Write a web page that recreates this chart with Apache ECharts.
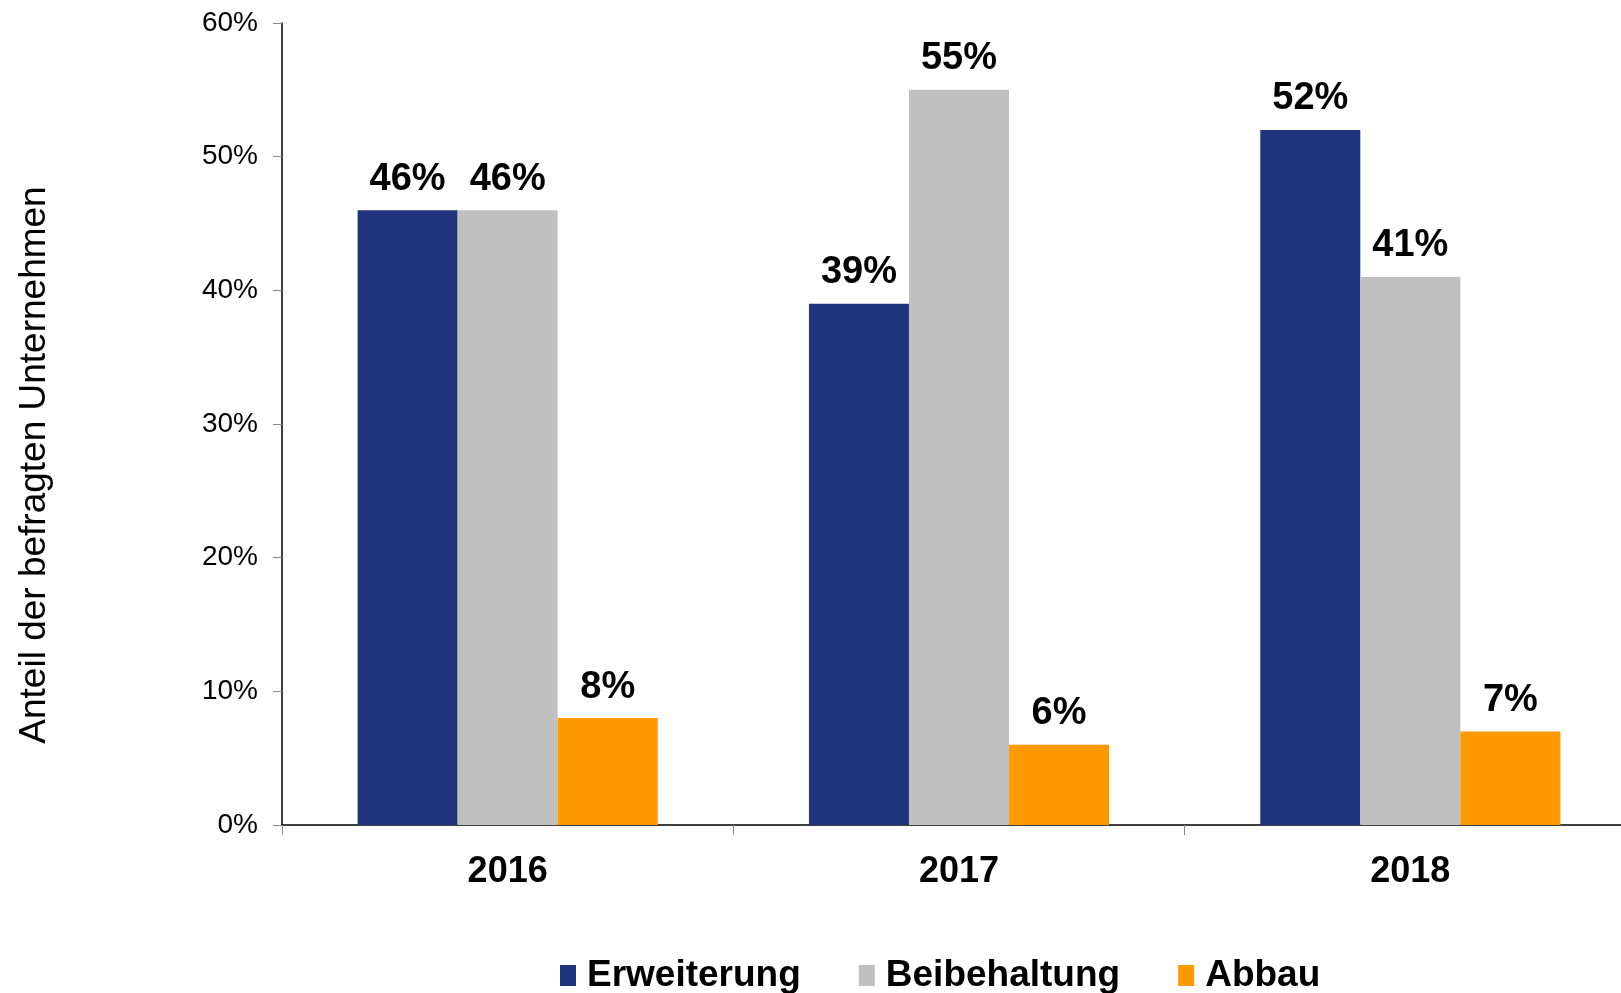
<!DOCTYPE html>
<html>
<head>
<meta charset="utf-8">
<script src="https://cdn.jsdelivr.net/npm/echarts@6/dist/echarts.min.js"></script>
<style>
  html, body { margin: 0; padding: 0; background: #fff; overflow: hidden; }
  /* Achse läuft rechts über den Bildrand hinaus, deshalb etwas breiter */
  #chart { width: 1636px; height: 993px; }
</style>
</head>
<body>
<div id="chart"></div>
<script>
// Daten
var years = ["2016", "2017", "2018"];
var erweiterung = [46, 39, 52];
var beibehaltung = [46, 55, 41];
var abbau = [8, 6, 7];
var yTicks = [0, 10, 20, 30, 40, 50, 60];

var font = "Liberation Sans, Arial, Helvetica, sans-serif";
var chart = echarts.init(document.getElementById("chart"));

function barSeries(name, data, color) {
  return {
    name: name,
    type: "bar",
    data: data,
    barGap: "0%",
    barCategoryGap: "33.5%",
    itemStyle: { color: color },
    label: {
      show: true,
      position: "top",
      distance: 12,
      formatter: "{c}%",
      color: "#000",
      fontFamily: font,
      fontWeight: "bold",
      fontSize: 38
    }
  };
}

var option = {
  animation: false,
  backgroundColor: "#fff",
  grid: { left: 282, right: 0, top: 23, bottom: 168, containLabel: false },
  legend: {
    left: 555,
    top: 952,
    itemWidth: 16,
    itemHeight: 21,
    itemGap: 58,
    icon: "rect",
    textStyle: {
      color: "#000",
      fontFamily: font,
      fontWeight: "bold",
      fontSize: 37,
      padding: [0, 0, 0, 6]
    },
    data: ["Erweiterung", "Beibehaltung", "Abbau"]
  },
  xAxis: {
    type: "category",
    data: years,
    axisLine: { lineStyle: { color: "#000", width: 1.5 } },
    axisTick: { show: true, length: 10, lineStyle: { color: "#888" } },
    axisLabel: {
      margin: 29,
      color: "#000",
      fontFamily: font,
      fontWeight: "bold",
      fontSize: 36
    }
  },
  yAxis: {
    type: "value",
    min: yTicks[0],
    max: yTicks[yTicks.length - 1],
    interval: 10,
    axisLine: { show: true, lineStyle: { color: "#000", width: 1.5 } },
    axisTick: { show: true, length: 9, lineStyle: { color: "#888" } },
    splitLine: { show: false },
    axisLabel: {
      margin: 24,
      formatter: "{value}%",
      color: "#000",
      fontFamily: font,
      fontSize: 28
    }
  },
  graphic: [{
    type: "text",
    x: 35,
    y: 465,
    rotation: Math.PI / 2,
    style: {
      text: "Anteil der befragten Unternehmen",
      fill: "#000",
      font: "37px " + font,
      textAlign: "center",
      textVerticalAlign: "middle"
    }
  }],
  series: [
    barSeries("Erweiterung", erweiterung, "#1f347d"),
    barSeries("Beibehaltung", beibehaltung, "#c0c0c0"),
    barSeries("Abbau", abbau, "#ff9900")
  ]
};

chart.setOption(option);
</script>
</body>
</html>
